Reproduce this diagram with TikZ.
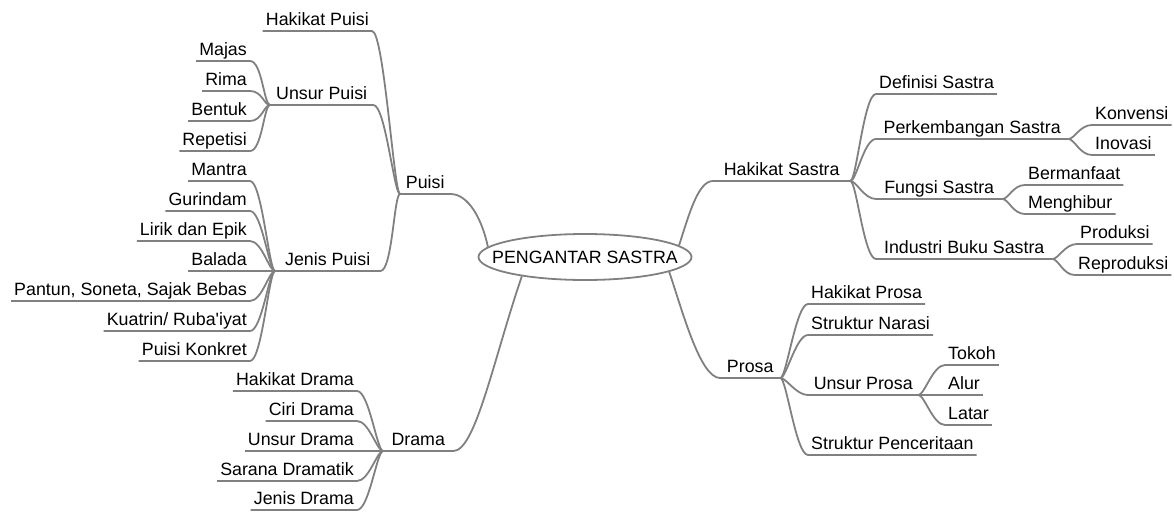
\documentclass[tikz,border=0pt]{standalone}
\usepackage{fontspec}
\setmainfont{Liberation Sans}[Ligatures=TeXOff]
\usetikzlibrary{shapes.geometric}
\definecolor{lc}{RGB}{128,128,128}
\tikzset{
 ln/.style={draw=lc, line width=1.8pt},
 tp/.style={font=\fontsize{17.8}{20}\selectfont, inner xsep=3pt, inner ysep=5pt, text height=13pt, text depth=0pt},
 lf/.style={tp, anchor=south east},
 rt/.style={tp, anchor=south west},
 pr/.style={tp, anchor=south west, minimum width=#1},
 lcur/.style={out=0, in=180, out distance=12pt, in distance=6pt},
 rcur/.style={out=0, in=180, out distance=6pt, in distance=12pt},
}
\begin{document}
\begin{tikzpicture}[x=1pt,y=-1pt]
\useasboundingbox (0,0) rectangle (1174,514);
% root
\node[draw=lc, line width=1.8pt, ellipse, minimum width=213pt, minimum height=46pt, inner sep=0pt,
      font=\fontsize{17.8}{20}\selectfont] (root) at (585,257) {\makebox[0pt]{PENGANTAR SASTRA}};
% left side
\node[pr=50pt] (puisi) at (400,194) {Puisi};
\node[lf] (hpuisi) at (372,31) {Hakikat Puisi};
\node[pr=103pt] (upuisi) at (270,105) {Unsur Puisi};
\node[lf] (majas) at (250,61) {Majas};
\node[lf] (rima) at (250,91) {Rima};
\node[lf] (bentuk) at (250,121) {Bentuk};
\node[lf] (repetisi) at (250,151) {Repetisi};
\node[pr=105pt] (jpuisi) at (275,271) {Jenis Puisi};
\node[lf] (mantra) at (250,181) {Mantra};
\node[lf] (gurindam) at (250,211) {Gurindam};
\node[lf] (lirik) at (250,241) {Lirik dan Epik};
\node[lf] (balada) at (250,271) {Balada};
\node[lf] (pantun) at (250,301) {Pantun, Soneta, Sajak Bebas};
\node[lf] (kuatrin) at (250,331) {Kuatrin/ Ruba'iyat};
\node[lf] (konkret) at (250,361) {Puisi Konkret};
\node[pr=70pt] (drama) at (383,451) {Drama};
\node[lf] (hdrama) at (357,391) {Hakikat Drama};
\node[lf] (cdrama) at (357,421) {Ciri Drama};
\node[lf] (udrama) at (357,451) {Unsur Drama};
\node[lf] (sdrama) at (357,481) {Sarana Dramatik};
\node[lf] (jdrama) at (357,510) {Jenis Drama};
% right side
\node[pr=137pt] (hs) at (713,181) {Hakikat Sastra};
\node[rt] (def) at (876,94) {Definisi Sastra};
\node[pr=192pt] (perk) at (876,139) {Perkembangan Sastra};
\node[rt] (konv) at (1092,125) {Konvensi};
\node[rt] (inov) at (1092,155) {Inovasi};
\node[pr=126pt] (fungsi) at (876,199) {Fungsi Sastra};
\node[rt] (manfaat) at (1025,185) {Bermanfaat};
\node[rt] (hibur) at (1025,214) {Menghibur};
\node[pr=176pt] (industri) at (876,259) {Industri Buku Sastra};
\node[rt] (prod) at (1077,244) {Produksi};
\node[rt] (reprod) at (1075,275) {Reproduksi};
\node[pr=60pt] (prosa) at (720,378) {Prosa};
\node[rt] (hprosa) at (808,304) {Hakikat Prosa};
\node[rt] (narasi) at (808,335) {Struktur Narasi};
\node[pr=110pt] (uprosa) at (808,395) {Unsur Prosa};
\node[rt] (tokoh) at (945,365) {Tokoh};
\node[rt] (alur) at (945,395) {Alur};
\node[rt] (latar) at (945,425) {Latar};
\node[rt] (cerita) at (808,455) {Struktur Penceritaan};
% main branches
\draw[ln] (root.174) .. controls +(-6,-28) and +(18,0) .. (puisi.south east) -- (puisi.south west);
\draw[ln] (root.197) .. controls +(-28,82) and +(22,0) .. (drama.south east) -- (drama.south west);
\draw[ln] (root.7) .. controls +(10,-31) and +(-15,0) .. (hs.south west) -- (hs.south east);
\draw[ln] (root.350) .. controls +(13,38) and +(-20,0) .. (prosa.south west) -- (prosa.south east);
% Puisi
\foreach \c in {hpuisi,upuisi,jpuisi}
  \draw[ln] (\c.south west) -- (\c.south east) to[lcur] (puisi.south west);
\foreach \c in {majas,rima,bentuk,repetisi}
  \draw[ln] (\c.south west) -- (\c.south east) to[lcur] (upuisi.south west);
\foreach \c in {mantra,gurindam,lirik,balada,pantun,kuatrin,konkret}
  \draw[ln] (\c.south west) -- (\c.south east) to[lcur] (jpuisi.south west);
% Drama
\foreach \c in {hdrama,cdrama,udrama,sdrama,jdrama}
  \draw[ln] (\c.south west) -- (\c.south east) to[lcur] (drama.south west);
% Hakikat Sastra
\foreach \c in {def,perk,fungsi,industri}
  \draw[ln] (hs.south east) to[rcur] (\c.south west) -- (\c.south east);
\foreach \c in {konv,inov}
  \draw[ln] (perk.south east) to[rcur] (\c.south west) -- (\c.south east);
\foreach \c in {manfaat,hibur}
  \draw[ln] (fungsi.south east) to[rcur] (\c.south west) -- (\c.south east);
\foreach \c in {prod,reprod}
  \draw[ln] (industri.south east) to[rcur] (\c.south west) -- (\c.south east);
% Prosa
\foreach \c in {hprosa,narasi,uprosa,cerita}
  \draw[ln] (prosa.south east) to[rcur] (\c.south west) -- (\c.south east);
\foreach \c in {tokoh,alur,latar}
  \draw[ln] (uprosa.south east) to[rcur] (\c.south west) -- (\c.south east);
\end{tikzpicture}
\end{document}
